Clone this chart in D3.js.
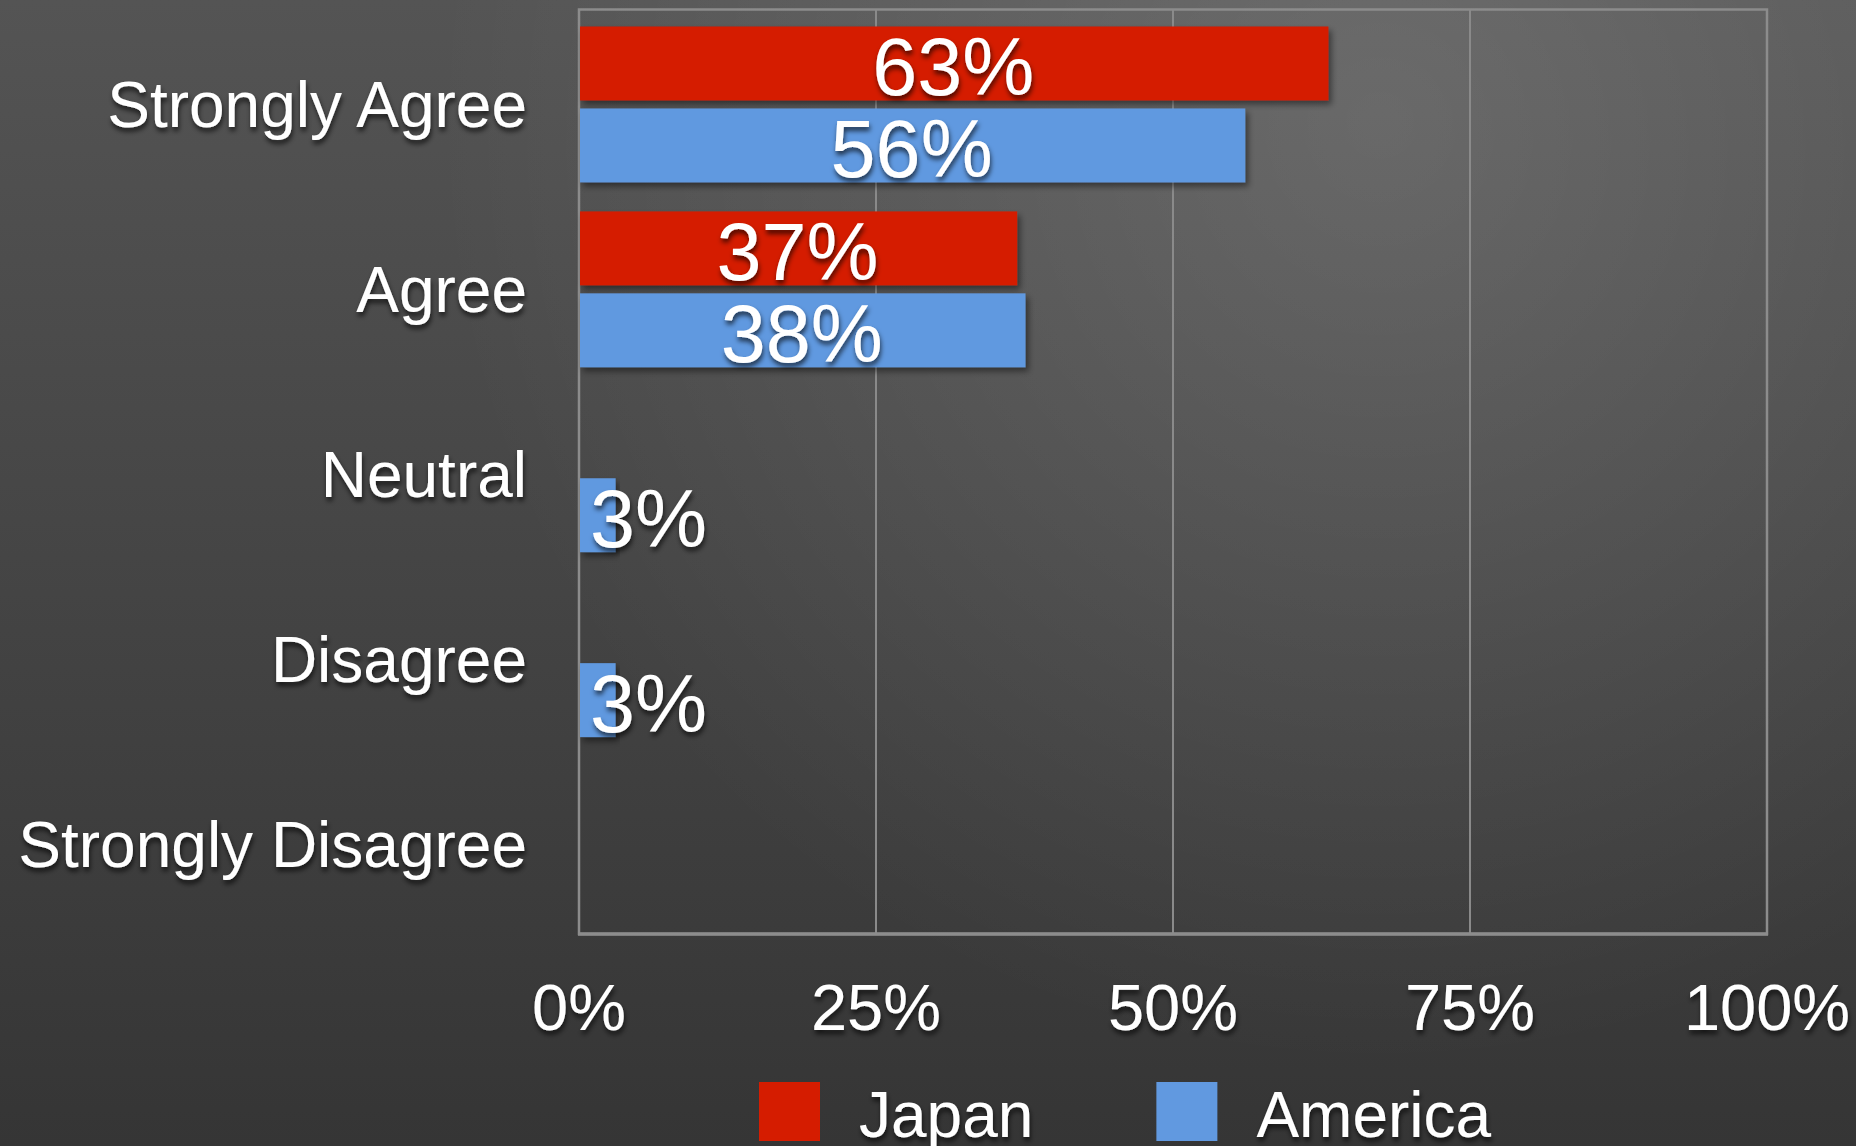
<!DOCTYPE html>
<html>
  <head>
    <meta charset="utf-8">
    <title>Japan vs America survey</title>
    <style>
      body { margin: 0; background: #444; overflow: hidden; }
      text {
        fill: white;
        font-family: "Liberation Sans", Arial, Helvetica, sans-serif;
      }
      .grid { stroke: #8a8a8a; stroke-width: 2; }
      .frame { fill: none; stroke: #8c8c8c; stroke-width: 2.5; }
    </style>
  </head>
  <body>
    <script src="https://d3js.org/d3.v7.min.js"></script>
    <script>
      const width = 1856;
      const height = 1146;

      const categories = ["Strongly Agree", "Agree", "Neutral", "Disagree", "Strongly Disagree"];
      const seriesNames = ["Japan", "America"];
      const japan = [63, 36.8, 0, 0, 0];
      const america = [56, 37.5, 3, 3, 0];
      const tickValues = [0, 25, 50, 75, 100];
      const colors = ["#d51c00", "#6199e0"];

      const values = [japan, america];

      const svg = d3.select("body")
        .append("svg")
        .attr("width", width)
        .attr("height", height);

      const defs = svg.append("defs");

      const bgLin = defs.append("linearGradient")
        .attr("id", "bgLin")
        .attr("x1", 0).attr("y1", 0).attr("x2", 0).attr("y2", 1);
      bgLin.append("stop").attr("offset", 0).attr("stop-color", "#545454");
      bgLin.append("stop").attr("offset", 0.55).attr("stop-color", "#434343");
      bgLin.append("stop").attr("offset", 1).attr("stop-color", "#353535");

      const bgRad = defs.append("radialGradient")
        .attr("id", "bgRad")
        .attr("gradientUnits", "userSpaceOnUse")
        .attr("cx", 1380).attr("cy", 120).attr("r", 950);
      bgRad.append("stop").attr("offset", 0).attr("stop-color", "#ffffff").attr("stop-opacity", 0.14);
      bgRad.append("stop").attr("offset", 1).attr("stop-color", "#ffffff").attr("stop-opacity", 0);

      const textShadow = defs.append("filter").attr("id", "textShadow")
        .attr("x", "-10%").attr("y", "-20%").attr("width", "130%").attr("height", "150%");
      textShadow.append("feDropShadow")
        .attr("dx", 1).attr("dy", 4).attr("stdDeviation", 2.5)
        .attr("flood-color", "#000").attr("flood-opacity", 0.65);

      const barShadow = defs.append("filter").attr("id", "barShadow")
        .attr("x", "-5%").attr("y", "-20%").attr("width", "115%").attr("height", "150%");
      barShadow.append("feDropShadow")
        .attr("dx", 3).attr("dy", 4).attr("stdDeviation", 3)
        .attr("flood-color", "#000").attr("flood-opacity", 0.45);

      svg.append("rect").attr("width", width).attr("height", height).attr("fill", "url(#bgLin)");
      svg.append("rect").attr("width", width).attr("height", height).attr("fill", "url(#bgRad)");

      const x = d3.scaleLinear().domain([0, 100]).range([579, 1767]);
      const y = d3.scaleBand().domain(categories).range([9.5, 934]);
      const ySub = d3.scaleBand()
        .domain(seriesNames)
        .range([2.5, y.bandwidth() + 2.5])
        .paddingInner(0.0976)
        .paddingOuter(0.177);

      // grid + frame
      svg.append("g")
        .selectAll("line")
        .data(tickValues.slice(1, -1))
        .join("line")
        .attr("class", "grid")
        .attr("x1", d => x(d)).attr("x2", d => x(d))
        .attr("y1", y.range()[0]).attr("y2", y.range()[1]);

      svg.append("rect")
        .attr("class", "frame")
        .attr("x", x(0)).attr("y", y.range()[0])
        .attr("width", x(100) - x(0))
        .attr("height", y.range()[1] - y.range()[0]);

      svg.append("line")
        .attr("x1", x(0) - 1).attr("x2", x(100) + 1)
        .attr("y1", y.range()[1]).attr("y2", y.range()[1])
        .attr("stroke", "#8c8c8c").attr("stroke-width", 3.5);

      // bars
      const rows = [];
      categories.forEach((c, i) => {
        seriesNames.forEach((s, j) => {
          rows.push({ cat: c, series: s, value: values[j][i], color: colors[j] });
        });
      });
      const shown = rows.filter(d => d.value > 0);

      svg.append("g")
        .selectAll("rect")
        .data(shown)
        .join("rect")
        .attr("x", x(0) + 1)
        .attr("y", d => y(d.cat) + ySub(d.series))
        .attr("width", d => x(d.value) - x(0))
        .attr("height", ySub.bandwidth())
        .attr("fill", d => d.color)
        .attr("filter", "url(#barShadow)");

      // value labels
      svg.append("g")
        .selectAll("text")
        .data(shown)
        .join("text")
        .attr("font-size", 81)
        .attr("text-anchor", "middle")
        .attr("filter", "url(#textShadow)")
        .attr("y", d => y(d.cat) + ySub(d.series) + ySub.bandwidth() - 5)
        .text(d => Math.round(d.value) + "%")
        .attr("x", function(d) {
          const w = this.getComputedTextLength();
          const mid = (x(0) + x(d.value)) / 2;
          return Math.max(mid, x(0) + 11 + w / 2);
        });

      // category labels
      svg.append("g")
        .selectAll("text")
        .data(categories)
        .join("text")
        .attr("font-size", 64)
        .attr("text-anchor", "end")
        .attr("filter", "url(#textShadow)")
        .attr("x", 527)
        .attr("y", d => y(d) + y.bandwidth() / 2 + 25)
        .text(d => d);

      // x tick labels
      svg.append("g")
        .selectAll("text")
        .data(tickValues)
        .join("text")
        .attr("font-size", 65)
        .attr("text-anchor", "middle")
        .attr("filter", "url(#textShadow)")
        .attr("x", d => x(d))
        .attr("y", 1030)
        .text(d => d + "%");

      // legend
      const legend = svg.append("g");
      let lx = 759;
      seriesNames.forEach((s, i) => {
        legend.append("rect")
          .attr("x", lx).attr("y", 1082)
          .attr("width", 61).attr("height", 59)
          .attr("fill", colors[i]);
        const t = legend.append("text")
          .attr("font-size", 64)
          .attr("filter", "url(#textShadow)")
          .attr("x", lx + 100)
          .attr("y", 1137)
          .text(s);
        lx = lx + 100 + t.node().getComputedTextLength() + 123;
      });
    </script>
  </body>
</html>
